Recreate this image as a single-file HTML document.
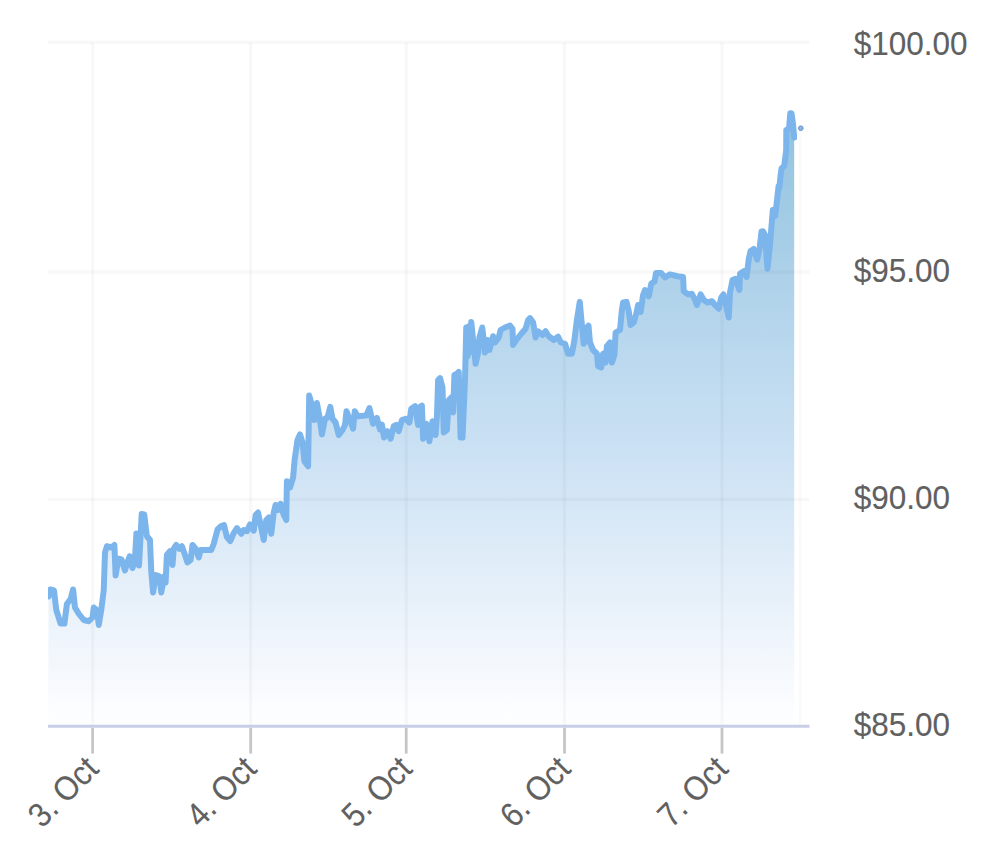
<!DOCTYPE html>
<html lang="en">
<head>
<meta charset="utf-8">
<title>Price chart</title>
<style>
  html, body { margin: 0; padding: 0; background: #ffffff; }
  body { width: 1000px; height: 844px; overflow: hidden; }
  svg { display: block; }
  .lbl { font-family: "Liberation Sans", Arial, Helvetica, sans-serif; fill: #606060; stroke: #606060; stroke-width: 0.12px; }
</style>
</head>
<body>
<svg width="1000" height="844" viewBox="0 0 1000 844">
  <defs>
    <linearGradient id="areaFill" gradientUnits="userSpaceOnUse" x1="0" y1="113.2" x2="0" y2="726.2">
      <stop offset="0" stop-color="#91c2df"/>
      <stop offset="0.55" stop-color="#cbe1f4"/>
      <stop offset="0.92" stop-color="#f6f9fd"/>
      <stop offset="1" stop-color="#feffff"/>
    </linearGradient>
    <clipPath id="plotClip"><rect x="48" y="32.2" width="749" height="694"/></clipPath>
  </defs>
  <rect x="0" y="0" width="1000" height="844" fill="#ffffff"/>
  <g>
  <path d="M800.2 131 V726.2" stroke="#fcfaf9" stroke-width="2.4" fill="none"/>
  <g fill="none" stroke="#c6c6c6" stroke-width="2.8">
    <path d="M92.6 727.7 V753.6"/>
    <path d="M250.7 727.7 V753.6"/>
    <path d="M406.2 727.7 V753.6"/>
    <path d="M564.5 727.7 V753.6"/>
    <path d="M722 727.7 V753.6"/>
  </g>
  <g clip-path="url(#plotClip)">
    <path d="M48.6 596.5 L50.3 589.5 L54 590.5 L56.3 610 L60.6 623.5 L64.4 623.5 L66.9 604 L70.6 599 L73.1 589.5 L75 607.5 L78.75 613.75 L83.75 620 L88.75 621.25 L92.5 617.5 L93.75 607.5 L96.9 610 L98.75 625 L101.25 610 L103.75 590 L105 552.5 L106.9 546.25 L111.25 547.5 L114.4 545 L115.6 575.5 L118.4 558.75 L121.5 559.5 L125 570.5 L127.5 562 L129.7 556.25 L132.5 568 L135 558 L136.4 533.5 L139 565.5 L141.7 514 L144.2 514.4 L146.9 536.25 L150 540 L151.25 571.25 L153.1 592.5 L155.6 575 L159.4 576.25 L161.25 592.5 L164.4 576.25 L165.6 582.5 L166.9 555 L170 551.25 L172.5 565 L173.75 548.75 L176.25 545 L179.4 548.75 L181.9 546.25 L185 555 L187.5 562.5 L190.6 560 L192.5 545 L195.6 548.75 L198.75 557.5 L200.6 550 L206.25 550 L211.25 550 L213.75 543.75 L217.5 529.5 L221.25 526 L224 525 L226.9 537 L230.3 541 L233.75 533 L236.9 528.1 L241.25 533.75 L243.75 530 L246.9 531.25 L250 524.4 L253.75 530.6 L255.6 515 L258.1 512.5 L260.6 525 L263.75 540 L266.25 520 L268.75 517.5 L271.25 533.75 L273.75 512.5 L275.6 505 L278.1 510 L280.6 503.75 L283.75 515 L286.25 520 L286.9 481.25 L290 487.5 L293.1 477.5 L294.6 460 L297.5 440 L300 434.4 L302.5 442.5 L304.4 461.25 L308.1 466.25 L308.75 425 L309.2 395.6 L311.25 402.5 L314.4 420 L316.9 403 L319.4 416.25 L321.9 434.4 L325 418.75 L327.5 417.5 L330.25 406.9 L332.5 418.75 L335.6 422.5 L338.75 435 L342.5 430 L345 425 L346.5 411.25 L350 420 L353.1 428.75 L354.75 411.25 L357.5 416.25 L366.25 415.6 L369.4 408.1 L373.1 423.75 L376.9 418 L380 429.5 L381.9 424.5 L384 437.5 L387.5 431.25 L390.6 438.75 L393.75 426.25 L396.25 425 L398.75 431.25 L401.9 420 L405.6 418.75 L409.4 422.5 L411.25 408.75 L415 406.25 L418.1 425 L419.4 407.5 L421.9 405.6 L423.1 438.75 L426.25 423.75 L429.4 441.25 L432.5 421.25 L435.6 435 L436.9 417.5 L438.1 380 L440 378.1 L442.5 387.5 L443.75 432.5 L446.9 430 L448.75 400 L451.25 397.5 L453.1 412.5 L454.4 375 L456.9 373.75 L458.75 371.9 L460.6 437.5 L462.5 437.5 L465 380 L466.25 327.5 L467.6 356 L468.9 326.25 L470.1 352 L471.25 321.9 L473.1 340 L475.6 363.75 L478.1 352.5 L479.4 337.5 L482.25 327.5 L483.75 340 L485 352.5 L487.5 340 L489.4 350 L493.1 336.25 L495 342.5 L498.75 337.5 L500.6 330 L505 327.5 L510 325.6 L512.5 328.75 L513.1 345 L516.25 340 L521.25 333.75 L525.6 328.75 L528.1 320 L530 318.1 L533.1 322.5 L535.6 337.5 L538.1 331.25 L542.5 335 L545.6 331.25 L548.75 336.25 L553.75 340 L558.1 336.75 L560.9 342.5 L565 343.75 L568.1 353.75 L571.9 353.75 L574.4 340 L576.9 320 L579.75 301.9 L581.9 325 L583.75 343.75 L586.25 328.75 L588.5 325.6 L590 342.5 L593.1 350 L596.9 353.75 L598.1 366.25 L601.25 367.5 L603.1 353.75 L605.6 362.5 L606.9 346.25 L610 342.5 L611.9 362.5 L614.4 355 L615.6 332.5 L620 330 L621.9 310 L623.1 302.5 L626.5 301.9 L628.75 311.25 L630.6 325 L633.75 322.5 L636.25 313.75 L638.1 305 L640.6 312 L643.1 295 L645 290 L648.75 296.25 L651.25 283.75 L654.7 281.25 L655.9 273.1 L661.25 273.1 L665 277.5 L670 274.4 L677.5 276.25 L683.1 276.9 L683.75 291.25 L688.1 294.4 L691.9 293.75 L695 300 L696.9 305 L700.6 294.4 L703.75 300 L707.5 302.5 L711.9 301.25 L715 305 L718.75 308.75 L721.25 297.5 L723.5 294.4 L726.25 306.25 L728.75 317.5 L730 292.5 L732.5 280 L735.6 278.75 L739.4 290 L740 273.75 L743.75 271.25 L746.6 277 L748.75 259 L750.6 251 L753.75 249 L757.2 259.7 L759.6 248 L761.5 231.5 L763.1 231.25 L765 235 L767.5 268.75 L770 245 L772.8 210 L775.2 216 L777.6 195 L778.6 186 L779.3 188 L780.5 176 L781.5 168.5 L784.2 166 L785.2 158 L786.2 150 L786.3 130 L789 128.75 L790.3 113.2 L791.5 113.5 L793 124 L794.2 137.5 L794.2 726.2 L48 726.2 Z" fill="url(#areaFill)" fill-opacity="1" stroke="none"/>
  </g>
  <g fill="none" stroke="#000000" stroke-opacity="0.029" stroke-width="3.4">
    <path d="M92.6 42.2 V726.2"/>
    <path d="M250.7 42.2 V726.2"/>
    <path d="M406.2 42.2 V726.2"/>
    <path d="M564.5 42.2 V726.2"/>
    <path d="M722 42.2 V726.2"/>
    <path d="M48 42.2 H809.5"/>
    <path d="M48 272 H809.5"/>
    <path d="M48 499.5 H809.5"/>
  </g>
  <g clip-path="url(#plotClip)">
    <path d="M48.6 596.5 L50.3 589.5 L54 590.5 L56.3 610 L60.6 623.5 L64.4 623.5 L66.9 604 L70.6 599 L73.1 589.5 L75 607.5 L78.75 613.75 L83.75 620 L88.75 621.25 L92.5 617.5 L93.75 607.5 L96.9 610 L98.75 625 L101.25 610 L103.75 590 L105 552.5 L106.9 546.25 L111.25 547.5 L114.4 545 L115.6 575.5 L118.4 558.75 L121.5 559.5 L125 570.5 L127.5 562 L129.7 556.25 L132.5 568 L135 558 L136.4 533.5 L139 565.5 L141.7 514 L144.2 514.4 L146.9 536.25 L150 540 L151.25 571.25 L153.1 592.5 L155.6 575 L159.4 576.25 L161.25 592.5 L164.4 576.25 L165.6 582.5 L166.9 555 L170 551.25 L172.5 565 L173.75 548.75 L176.25 545 L179.4 548.75 L181.9 546.25 L185 555 L187.5 562.5 L190.6 560 L192.5 545 L195.6 548.75 L198.75 557.5 L200.6 550 L206.25 550 L211.25 550 L213.75 543.75 L217.5 529.5 L221.25 526 L224 525 L226.9 537 L230.3 541 L233.75 533 L236.9 528.1 L241.25 533.75 L243.75 530 L246.9 531.25 L250 524.4 L253.75 530.6 L255.6 515 L258.1 512.5 L260.6 525 L263.75 540 L266.25 520 L268.75 517.5 L271.25 533.75 L273.75 512.5 L275.6 505 L278.1 510 L280.6 503.75 L283.75 515 L286.25 520 L286.9 481.25 L290 487.5 L293.1 477.5 L294.6 460 L297.5 440 L300 434.4 L302.5 442.5 L304.4 461.25 L308.1 466.25 L308.75 425 L309.2 395.6 L311.25 402.5 L314.4 420 L316.9 403 L319.4 416.25 L321.9 434.4 L325 418.75 L327.5 417.5 L330.25 406.9 L332.5 418.75 L335.6 422.5 L338.75 435 L342.5 430 L345 425 L346.5 411.25 L350 420 L353.1 428.75 L354.75 411.25 L357.5 416.25 L366.25 415.6 L369.4 408.1 L373.1 423.75 L376.9 418 L380 429.5 L381.9 424.5 L384 437.5 L387.5 431.25 L390.6 438.75 L393.75 426.25 L396.25 425 L398.75 431.25 L401.9 420 L405.6 418.75 L409.4 422.5 L411.25 408.75 L415 406.25 L418.1 425 L419.4 407.5 L421.9 405.6 L423.1 438.75 L426.25 423.75 L429.4 441.25 L432.5 421.25 L435.6 435 L436.9 417.5 L438.1 380 L440 378.1 L442.5 387.5 L443.75 432.5 L446.9 430 L448.75 400 L451.25 397.5 L453.1 412.5 L454.4 375 L456.9 373.75 L458.75 371.9 L460.6 437.5 L462.5 437.5 L465 380 L466.25 327.5 L467.6 356 L468.9 326.25 L470.1 352 L471.25 321.9 L473.1 340 L475.6 363.75 L478.1 352.5 L479.4 337.5 L482.25 327.5 L483.75 340 L485 352.5 L487.5 340 L489.4 350 L493.1 336.25 L495 342.5 L498.75 337.5 L500.6 330 L505 327.5 L510 325.6 L512.5 328.75 L513.1 345 L516.25 340 L521.25 333.75 L525.6 328.75 L528.1 320 L530 318.1 L533.1 322.5 L535.6 337.5 L538.1 331.25 L542.5 335 L545.6 331.25 L548.75 336.25 L553.75 340 L558.1 336.75 L560.9 342.5 L565 343.75 L568.1 353.75 L571.9 353.75 L574.4 340 L576.9 320 L579.75 301.9 L581.9 325 L583.75 343.75 L586.25 328.75 L588.5 325.6 L590 342.5 L593.1 350 L596.9 353.75 L598.1 366.25 L601.25 367.5 L603.1 353.75 L605.6 362.5 L606.9 346.25 L610 342.5 L611.9 362.5 L614.4 355 L615.6 332.5 L620 330 L621.9 310 L623.1 302.5 L626.5 301.9 L628.75 311.25 L630.6 325 L633.75 322.5 L636.25 313.75 L638.1 305 L640.6 312 L643.1 295 L645 290 L648.75 296.25 L651.25 283.75 L654.7 281.25 L655.9 273.1 L661.25 273.1 L665 277.5 L670 274.4 L677.5 276.25 L683.1 276.9 L683.75 291.25 L688.1 294.4 L691.9 293.75 L695 300 L696.9 305 L700.6 294.4 L703.75 300 L707.5 302.5 L711.9 301.25 L715 305 L718.75 308.75 L721.25 297.5 L723.5 294.4 L726.25 306.25 L728.75 317.5 L730 292.5 L732.5 280 L735.6 278.75 L739.4 290 L740 273.75 L743.75 271.25 L746.6 277 L748.75 259 L750.6 251 L753.75 249 L757.2 259.7 L759.6 248 L761.5 231.5 L763.1 231.25 L765 235 L767.5 268.75 L770 245 L772.8 210 L775.2 216 L777.6 195 L778.6 186 L779.3 188 L780.5 176 L781.5 168.5 L784.2 166 L785.2 158 L786.2 150 L786.3 130 L789 128.75 L790.3 113.2 L791.5 113.5 L793 124 L794.2 137.5" fill="none" stroke="#7cb5ec" stroke-width="6.0" stroke-linejoin="round" stroke-linecap="round"/>
  </g>
  <path d="M48 726.2 H809.5" stroke="#c9cee8" stroke-width="3.0" fill="none"/>
  <circle cx="800.8" cy="128.2" r="2.3" fill="#8fb5e0" stroke="#6391c9" stroke-width="1"/>
  <g class="lbl" font-size="31.5">
    <text transform="translate(853.7 55.3) scale(1 1.075)" x="0" y="0">$100.00</text>
    <text transform="translate(853.7 282) scale(1 1.075)" x="0" y="0">$95.00</text>
    <text transform="translate(853.7 509.3) scale(1 1.075)" x="0" y="0">$90.00</text>
    <text transform="translate(853.7 736) scale(1 1.075)" x="0" y="0">$85.00</text>
  </g>
  <g class="lbl" font-size="31.5" text-anchor="end">
    <text transform="translate(100.3 770.7) rotate(-45) scale(0.98 1.075)" x="0" y="0">3. Oct</text>
    <text transform="translate(258.4 770.7) rotate(-45) scale(0.98 1.075)" x="0" y="0">4. Oct</text>
    <text transform="translate(413.9 770.7) rotate(-45) scale(0.98 1.075)" x="0" y="0">5. Oct</text>
    <text transform="translate(572.2 770.7) rotate(-45) scale(0.98 1.075)" x="0" y="0">6. Oct</text>
    <text transform="translate(729.7 770.7) rotate(-45) scale(0.98 1.075)" x="0" y="0">7. Oct</text>
  </g>
  </g>
</svg>
</body>
</html>
